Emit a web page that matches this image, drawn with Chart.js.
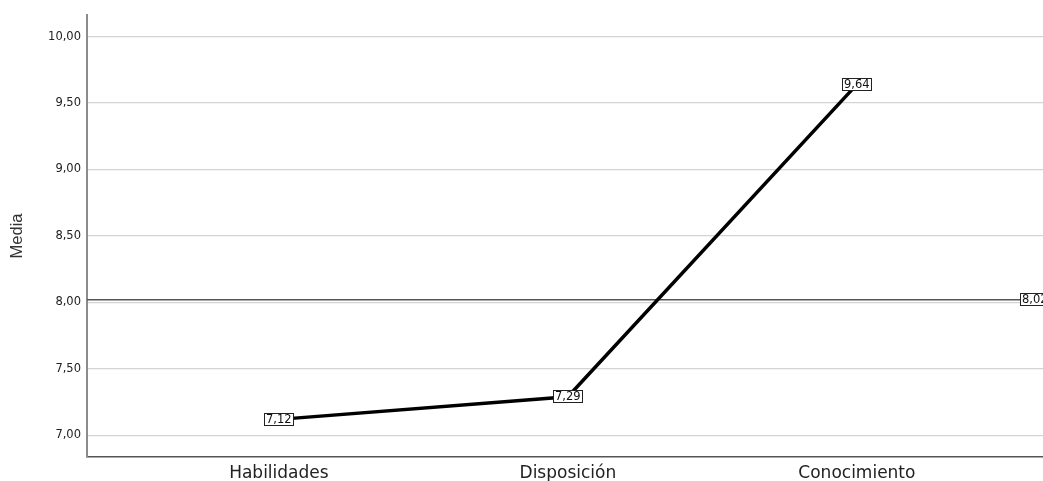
<!DOCTYPE html>
<html>
<head>
<meta charset="utf-8">
<script src="https://cdn.jsdelivr.net/npm/chart.js@4/dist/chart.umd.min.js"></script>
<style>
  html, body { margin: 0; padding: 0; background: #ffffff; }
  #wrap { width: 1043px; height: 481px; }
</style>
</head>
<body>
<div id="wrap"><canvas id="c" width="1043" height="481"></canvas></div>
<script>
// ---- data ----
const categories = ["Habilidades", "Disposición", "Conocimiento"];
const means = [7.12, 7.29, 9.64];
const referenceMean = 8.02;
const yTicks = [7.00, 7.50, 8.00, 8.50, 9.00, 9.50, 10.00];
const yTitle = "Media";

const fmt = v => v.toFixed(2).replace('.', ',');

const labelFont = '11.5px "DejaVu Sans", sans-serif';

function drawBoxLabel(ctx, text, cx, cy, leftAligned) {
  ctx.save();
  ctx.font = labelFont;
  const w = Math.round(ctx.measureText(text).width) + 4;
  const h = 13;
  const x = leftAligned ? Math.round(cx) : Math.round(cx - w / 2);
  const y = Math.round(cy - h / 2);
  ctx.fillStyle = '#ffffff';
  ctx.fillRect(x, y, w, h);
  ctx.strokeStyle = '#222222';
  ctx.lineWidth = 1;
  ctx.strokeRect(x + 0.5, y + 0.5, w - 1, h - 1);
  ctx.fillStyle = '#111111';
  ctx.textBaseline = 'middle';
  ctx.textAlign = 'left';
  ctx.fillText(text, x + 2, y + h / 2 + 0.5);
  ctx.restore();
}

const refLinePlugin = {
  id: 'refLine',
  beforeDatasetsDraw(chart) {
    const {ctx, chartArea, scales} = chart;
    const y = scales.y.getPixelForValue(referenceMean);
    ctx.save();
    ctx.strokeStyle = '#555555';
    ctx.lineWidth = 1.6;
    ctx.beginPath();
    ctx.moveTo(chartArea.left, y);
    ctx.lineTo(chartArea.right, y);
    ctx.stroke();
    ctx.restore();
  },
  afterDatasetsDraw(chart) {
    const {ctx, chartArea, scales} = chart;
    const meta = chart.getDatasetMeta(0);
    meta.data.forEach((pt, i) => {
      drawBoxLabel(ctx, fmt(means[i]), pt.x, pt.y, false);
    });
    const y = scales.y.getPixelForValue(referenceMean);
    drawBoxLabel(ctx, fmt(referenceMean), chartArea.right - 23, y, true);
  }
};

new Chart(document.getElementById('c'), {
  type: 'line',
  data: {
    datasets: [{
      data: means.map((v, i) => ({x: i, y: v})),
      borderColor: '#000000',
      borderWidth: 3.5,
      pointRadius: 0,
      pointHoverRadius: 0,
      tension: 0,
      fill: false
    }]
  },
  options: {
    responsive: false,
    animation: false,
    events: [],
    layout: { padding: { left: 0, right: 0, top: 15, bottom: 0 } },
    plugins: {
      legend: { display: false },
      tooltip: { enabled: false }
    },
    scales: {
      x: {
        type: 'linear',
        min: -0.664,
        max: 2.644,
        afterBuildTicks: s => { s.ticks = categories.map((c, i) => ({value: i})); },
        afterFit: s => { s.height = 24; },
        grid: { display: false, drawTicks: false },
        border: { display: true, color: '#555555', width: 1.5 },
        ticks: {
          callback: v => categories[v],
          color: '#222222',
          font: { family: '"DejaVu Sans", sans-serif', size: 17 },
          padding: 6,
          maxRotation: 0,
          autoSkip: false
        }
      },
      y: {
        type: 'linear',
        min: 6.837,
        max: 10.162,
        afterBuildTicks: s => { s.ticks = yTicks.map(v => ({value: v})); },
        afterFit: s => { s.width = 87; },
        grid: { color: '#d4d4d4', lineWidth: 1.2, drawTicks: false },
        border: { display: true, color: '#8c8c8c', width: 2 },
        ticks: {
          callback: v => fmt(v),
          color: '#222222',
          font: { family: '"DejaVu Sans", sans-serif', size: 11.5 },
          padding: 6
        },
        title: {
          display: true,
          text: yTitle,
          color: '#333333',
          font: { family: '"Liberation Sans", sans-serif', size: 16.5 },
          padding: { top: 8, bottom: 0 }
        }
      }
    }
  },
  plugins: [refLinePlugin]
});
</script>
</body>
</html>
